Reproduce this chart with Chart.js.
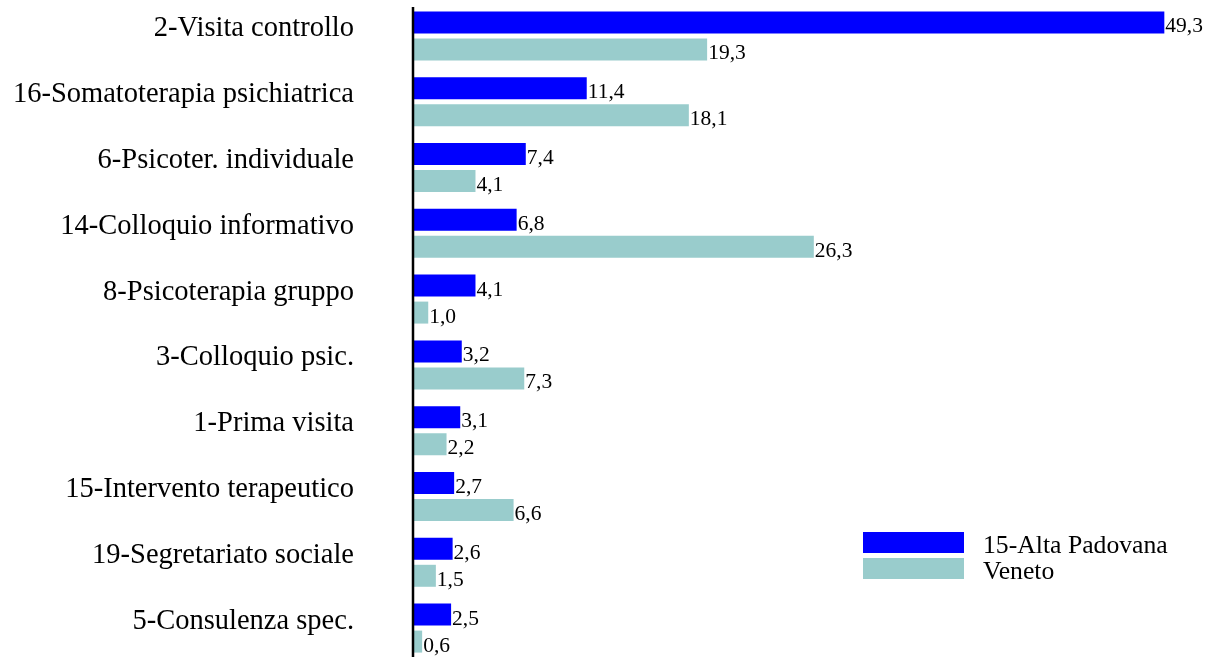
<!DOCTYPE html>
<html>
<head>
<meta charset="utf-8">
<script src="https://cdn.jsdelivr.net/npm/chart.js@4/dist/chart.umd.min.js"></script>
<style>
  html, body { margin: 0; padding: 0; background: #fff; overflow: hidden; }
  #wrap { width: 1213px; height: 657px; overflow: hidden; }
</style>
</head>
<body>
<div id="wrap"><canvas id="chart" width="1213" height="661"></canvas></div>
<script>
const categories = [
  '2-Visita controllo',
  '16-Somatoterapia psichiatrica',
  '6-Psicoter. individuale',
  '14-Colloquio informativo',
  '8-Psicoterapia gruppo',
  '3-Colloquio psic.',
  '1-Prima visita',
  '15-Intervento terapeutico',
  '19-Segretariato sociale',
  '5-Consulenza spec.'
];
const altaPadovana = [49.3, 11.4, 7.4, 6.8, 4.1, 3.2, 3.1, 2.7, 2.6, 2.5];
const veneto = [19.3, 18.1, 4.1, 26.3, 1.0, 7.3, 2.2, 6.6, 1.5, 0.6];
const seriesNames = ['15-Alta Padovana', 'Veneto'];

const FONT = "'Liberation Serif', 'Times New Roman', serif";

// value at the end of each bar, with comma decimals
const valueLabels = {
  id: 'valueLabels',
  afterDatasetsDraw(chart) {
    const ctx = chart.ctx;
    ctx.save();
    ctx.font = '21.5px ' + FONT;
    ctx.fillStyle = '#000';
    ctx.textAlign = 'left';
    ctx.textBaseline = 'alphabetic';
    chart.data.datasets.forEach((ds, i) => {
      chart.getDatasetMeta(i).data.forEach((bar, j) => {
        const txt = ds.data[j].toFixed(1).replace('.', ',');
        ctx.fillText(txt, bar.x + 1, bar.y + 10);
      });
    });
    ctx.restore();
  }
};

// axis line and legend box in the lower right
const extras = {
  id: 'extras',
  afterDraw(chart) {
    const ctx = chart.ctx;
    const area = chart.chartArea;
    ctx.save();
    ctx.strokeStyle = '#000';
    ctx.lineWidth = 2.5;
    ctx.beginPath();
    ctx.moveTo(area.left, 7);
    ctx.lineTo(area.left, chart.height);
    ctx.stroke();

    ctx.font = '25.7px ' + FONT;
    ctx.textAlign = 'left';
    ctx.textBaseline = 'alphabetic';
    chart.data.datasets.forEach((ds, i) => {
      const y = 532 + i * 26;
      ctx.fillStyle = ds.backgroundColor;
      ctx.fillRect(863, y, 101, 21);
      ctx.fillStyle = '#000';
      ctx.fillText(ds.label, 983, y + 21);
    });
    ctx.restore();
  }
};

new Chart(document.getElementById('chart').getContext('2d'), {
  type: 'bar',
  data: {
    labels: categories,
    datasets: [
      { label: seriesNames[0], data: altaPadovana, backgroundColor: '#0000ff' },
      { label: seriesNames[1], data: veneto, backgroundColor: '#99cccc' }
    ]
  },
  options: {
    indexAxis: 'y',
    responsive: false,
    animation: false,
    events: [],
    categoryPercentage: 0.82,
    barPercentage: 0.815,
    layout: { padding: { top: 3, right: 38, bottom: 0, left: 0 } },
    plugins: {
      legend: { display: false },
      tooltip: { enabled: false }
    },
    scales: {
      x: {
        display: false,
        min: 0,
        max: 50
      },
      y: {
        afterFit(scale) {
          scale.width = 413;
          scale.paddingTop = 0;
          scale.paddingBottom = 0;
        },
        grid: { display: false, drawTicks: false },
        border: { display: false },
        ticks: {
          color: '#000',
          padding: 59,
          labelOffset: -7,
          font: { family: FONT, size: 28.5 }
        }
      }
    }
  },
  plugins: [valueLabels, extras]
});
</script>
</body>
</html>
